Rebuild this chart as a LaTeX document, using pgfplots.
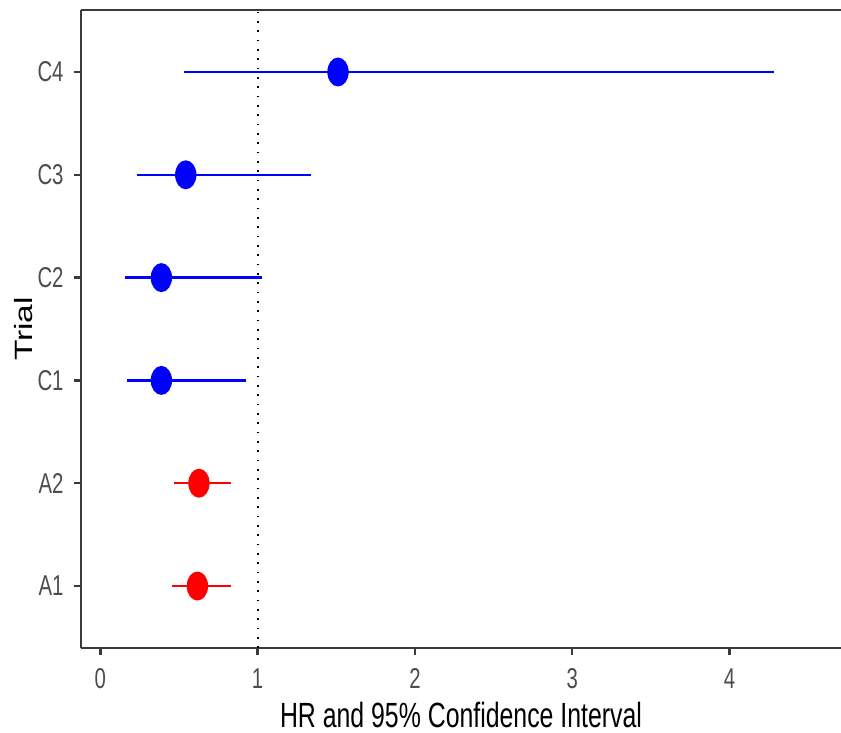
\documentclass[border=0pt]{standalone}
\usepackage{pgfplots}
\pgfplotsset{compat=1.18}
\usepackage{pgfplotstable}
\usepackage{fontspec}
\setmainfont{Liberation Sans}
\newfontfamily\condfont[FakeStretch=0.71]{Liberation Sans}
\newfontfamily\widefont[FakeStretch=1.34]{Liberation Sans}
\definecolor{tickgray}{HTML}{4D4D4D}
\definecolor{linegray}{HTML}{3A3A3A}

\pgfplotstableread{
pos hr lo hi
1 0.617 0.458 0.831
2 0.627 0.467 0.831
}\redtable
\pgfplotstableread{
pos hr lo hi
3 0.388 0.168 0.928
4 0.388 0.155 1.028
5 0.543 0.233 1.337
6 1.511 0.534 4.285
}\bluetable

\begin{document}
\begin{tikzpicture}
\begin{axis}[
  scale only axis,
  width=228pt, height=191.4pt,
  xmin=-0.123, xmax=4.709,
  ymin=0.397, ymax=6.603,
  axis x line=box, axis y line=left,
  axis line style={-, linegray, line width=0.75pt},
  xtick={0,1,2,3,4},
  ytick={1,2,3,4,5,6},
  yticklabels={A1,A2,C1,C2,C3,C4},
  xtick pos=lower, ytick pos=left,
  tick align=outside,
  major tick length=2.1pt,
  tick style={linegray, line width=0.7pt},
  /pgf/number format/assume math mode=true,
  ticklabel style={font=\condfont\fontsize{8.6}{10}\selectfont, text=tickgray},
  x tick label style={yshift=-0.6pt},
  y tick label style={xshift=0.4pt},
  xlabel={HR and 95\% Confidence Interval},
  ylabel={Trial},
  x label style={at={(axis description cs:0.5,-0.105)}, anchor=center, font=\condfont\fontsize{10.5}{12}\selectfont},
  y label style={at={(axis description cs:-0.075,0.5)}, anchor=center, rotate=0, font=\widefont\fontsize{7.5}{9}\selectfont},
  clip=false,
]
\coordinate (bl) at (rel axis cs:0,0);
\coordinate (tr) at (rel axis cs:1,1);
\addplot[black, line width=0.6pt, dash pattern=on 0.5pt off 2.3pt] coordinates {(1,0.397) (1,6.603)};
\addplot[red, only marks, mark=*, mark size=3pt,
  mark options={yscale=1.38, fill=red, draw=red},
  error bars/.cd, x dir=both, x explicit, error mark=none,
  error bar style={red, line width=0.7pt}]
  table[x=hr, y=pos, x error plus expr=\thisrow{hi}-\thisrow{hr}, x error minus expr=\thisrow{hr}-\thisrow{lo}] {\redtable};
\addplot[blue, only marks, mark=*, mark size=3pt,
  mark options={yscale=1.38, fill=blue, draw=blue},
  error bars/.cd, x dir=both, x explicit, error mark=none,
  error bar style={blue, line width=0.7pt}]
  table[x=hr, y=pos, x error plus expr=\thisrow{hi}-\thisrow{hr}, x error minus expr=\thisrow{hr}-\thisrow{lo}] {\bluetable};
\end{axis}
\pgfresetboundingbox
\useasboundingbox ([xshift=-24.3pt,yshift=-25.2pt]bl) rectangle ([yshift=3pt]tr);
\end{tikzpicture}
\end{document}
